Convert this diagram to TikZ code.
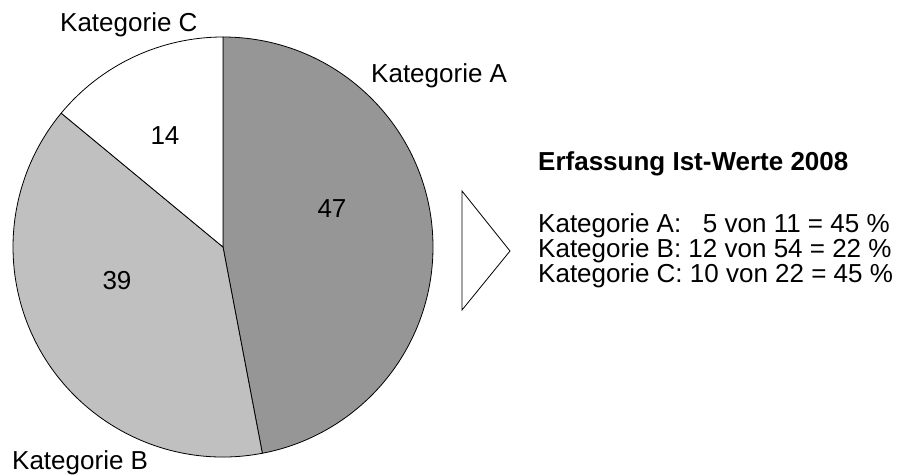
\documentclass[tikz,border=0pt]{standalone}
\usepackage{fontspec}
\setmainfont{Liberation Sans}
\usetikzlibrary{positioning}

\definecolor{pieA}{HTML}{969696}
\definecolor{pieB}{HTML}{C0C0C0}

\begin{document}
\begin{tikzpicture}[
  x=1pt, y=1pt,
  font=\fontsize{26}{28}\selectfont,
  slice/.style={draw, line width=0.8pt, line join=round},
  lbl/.style={inner sep=0pt, anchor=base west},
  value/.style={inner sep=0pt, anchor=base}
]
\useasboundingbox (0,0) rectangle (898,475);

% Pie
\coordinate (c) at (223,228);
\filldraw[slice, fill=pieA] (c) -- ++(90:210) arc[start angle=90, end angle=-79.2, radius=210] -- cycle;
\filldraw[slice, fill=pieB] (c) -- ++(-79.2:210) arc[start angle=-79.2, end angle=-219.6, radius=210] -- cycle;
\filldraw[slice, fill=white] (c) -- ++(-219.6:210) arc[start angle=-219.6, end angle=-270, radius=210] -- cycle;

% Nodes
\node[value] (vA) at (332,258) {47};
\node[value] (vB) at (117,186) {39};
\node[value] (vC) at (165,330) {14};
\node[lbl] (katA) at (371,392) {Kategorie A};
\node[lbl] (katB) at (12,6) {Kategorie B};
\node[lbl] (katC) at (60,443) {Kategorie C};

% Pointer
\draw[line width=0.8pt, line join=miter] (462,284) -- (510,224) -- (462,165) -- cycle;

% Results
\node[lbl, font=\fontsize{26}{28}\selectfont\bfseries] (title) at (538,305) {Erfassung Ist-Werte 2008};
\node[lbl] (werteA) at (538,243) {Kategorie A: \phantom{1}5 von 11 = 45 \%};
\node[lbl] (werteB) at (538,218) {Kategorie B: 12 von 54 = 22 \%};
\node[lbl] (werteC) at (538,193) {Kategorie C: 10 von 22 = 45 \%};

\end{tikzpicture}
\end{document}
